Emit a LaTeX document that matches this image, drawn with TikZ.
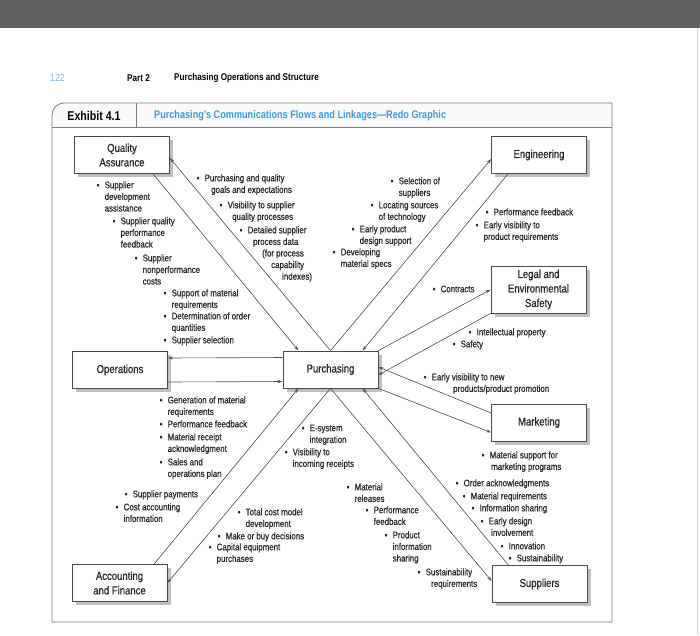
\documentclass[tikz,border=0pt]{standalone}
\usepackage{fontspec}
\setmainfont{Liberation Sans}[FakeStretch=0.83]
\newfontfamily\lblfont{Liberation Sans}[FakeStretch=0.83, FakeBold=0.6]
\usetikzlibrary{arrows.meta,calc,shadows}

\definecolor{bandgray}{HTML}{626262}
\definecolor{framegray}{HTML}{7A7A7A}
\definecolor{flowgray}{HTML}{4A4A4A}
\definecolor{titleblue}{HTML}{3E9BD6}
\definecolor{pageblue}{HTML}{86B6DC}

% bullet with a fixed width, and indents for the following lines
\newcommand{\bl}{\rule{0pt}{6.8pt}\makebox[8pt][l]{\textbullet}}
\newcommand{\ind}[1]{\hspace*{#1pt}}

\tikzset{
  box/.style={draw=flowgray, line width=0.7pt, fill=white, minimum width=95pt,
    minimum height=37pt, inner sep=2pt, align=center,
    font=\lblfont\fontsize{11.5}{14.5}\selectfont, text=black!85,
    drop shadow={shadow xshift=3.5pt, shadow yshift=-3.5pt, fill=gray!50, opacity=1}},
  lbl/.style={anchor=north west, inner sep=0pt, align=left, xshift=-1.5pt,
    yshift=3.8pt, font=\lblfont\fontsize{9.5}{11.6}\selectfont, text=black!85},
  flow/.style={draw=flowgray, line width=0.6pt, -{Stealth[length=5pt,width=3pt]}},
  frame/.style={draw=framegray, line width=0.8pt},
}

\begin{document}
\begin{tikzpicture}[x=1pt,y=-1pt]
\useasboundingbox (0,0) rectangle (700,635);

% page
\fill[bandgray] (0,0) rectangle (700,28);
\draw[gray!35] (697,28) -- (697,635);
\node[anchor=west, inner sep=0pt, text=pageblue, font=\fontsize{10.5}{12}\selectfont] (page) at (50,78) {122};
\node[anchor=west, inner sep=0pt, font=\bfseries\fontsize{9.8}{11}\selectfont] (part) at (127,78) {Part 2};
\node[anchor=west, inner sep=0pt, font=\bfseries\fontsize{9.8}{11}\selectfont] (chap) at (174,78) {Purchasing Operations and Structure};

% exhibit frame
\fill[gray!4] (52,127) -- (52,115) arc[start angle=180, end angle=270, radius=12] -- (612,103) -- (612,127) -- cycle;
\draw[frame] (52,622) -- (52,115) arc[start angle=180, end angle=270, radius=12] -- (612,103) -- (612,622) -- cycle;
\draw[frame] (52,127) -- (612,127);
\draw[frame] (136,103) -- (136,127);
\node[font=\bfseries\fontsize{12.8}{14}\selectfont] (exh) at (94,116) {Exhibit 4.1};
\node[anchor=west, inner sep=0pt, text=titleblue, font=\bfseries\fontsize{11}{14}\selectfont] (title) at (154,116) {Purchasing's Communications Flows and Linkages---Redo Graphic};

% boxes
\node[box] (qa) at (122,155) {Quality\\Assurance};
\node[box] (ops) at (120,370) {Operations};
\node[box] (acc) at (119.5,583) {Accounting\\and Finance};
\node[box] (purch) at (330.5,369.5) {Purchasing};
\node[box] (eng) at (539,155) {Engineering};
\node[box, minimum height=47pt] (legal) at (538.5,289.5) {Legal and\\Environmental\\Safety};
\node[box] (mkt) at (539,422.5) {Marketing};
\node[box] (sup) at (539.5,584) {Suppliers};

% flows
\draw[flow] ($(qa.south)+(31,0)$) -- ($(purch.north)+(-32,0)$);
\draw[flow] (purch.north) -- ($(qa.east)+(0,3)$);
\draw[flow] (purch.north) -- ($(eng.west)+(0,4)$);
\draw[flow] ($(eng.south)+(-31,0)$) -- ($(purch.north)+(32,0)$);
\draw[flow] (purch.north east) -- (legal.west);
\draw[flow] (legal.south west) -- ($(purch.east)+(0,5.5)$);
\draw[flow] ($(mkt.west)+(0,-9.5)$) -- ($(purch.east)+(0,-2.5)$);
\draw[flow] (purch.south east) -- ($(mkt.west)+(0,10)$);
\draw[flow] (purch.south) -- ($(sup.west)+(0,-3)$);
\draw[flow] ($(sup.north)+(-31,0)$) -- ($(purch.south)+(32,0)$);
\draw[flow] ($(acc.north)+(34.5,0)$) -- ($(purch.south)+(-32,0)$);
\draw[flow] (purch.south) -- (acc.east);
\draw[flow] ($(purch.west)+(0,-12)$) -- ($(ops.east)+(0,-12)$);
\draw[flow] ($(ops.east)+(0,12)$) -- ($(purch.west)+(0,12)$);

% quality assurance
\node[lbl] (qa1) at (98,185) {\bl Supplier\\\ind{8}development\\\ind{8}assistance};
\node[lbl] (qa2) at (114,221) {\bl Supplier quality\\\ind{8}performance\\\ind{8}feedback};
\node[lbl] (qa3) at (136,258) {\bl Supplier\\\ind{8}nonperformance\\\ind{8}costs};
\node[lbl] (pq1) at (198,178) {\bl Purchasing and quality\\\ind{14.5}goals and expectations};
\node[lbl] (pq2) at (221,205) {\bl Visibility to supplier\\\ind{12.5}quality processes};
\node[lbl] (pq3) at (241,230) {\bl Detailed supplier\\\ind{13.5}process data\\\ind{22.5}(for process\\\ind{31.5}capability\\\ind{42.5}indexes)};

% operations
\node[lbl] (op1) at (165,293) {\bl Support of material\\\ind{8}requirements};
\node[lbl] (op2) at (165,316) {\bl Determination of order\\\ind{8}quantities};
\node[lbl] (op3) at (165,340) {\bl Supplier selection};
\node[lbl] (op4) at (161,400) {\bl Generation of material\\\ind{8}requirements};
\node[lbl] (op5) at (161,424) {\bl Performance feedback};
\node[lbl] (op6) at (161,437) {\bl Material receipt\\\ind{8}acknowledgment};
\node[lbl] (op7) at (161,462) {\bl Sales and\\\ind{8}operations plan};

% engineering
\node[lbl] (eg1) at (392,181) {\bl Selection of\\\ind{8}suppliers};
\node[lbl] (eg2) at (372,205) {\bl Locating sources\\\ind{8}of technology};
\node[lbl] (eg3) at (353,229) {\bl Early product\\\ind{8}design support};
\node[lbl] (eg4) at (334,252) {\bl Developing\\\ind{8}material specs};
\node[lbl] (eg5) at (487,212) {\bl Performance feedback};
\node[lbl] (eg6) at (477,225) {\bl Early visibility to\\\ind{8}product requirements};

% legal and marketing
\node[lbl] (lg1) at (434,289) {\bl Contracts};
\node[lbl] (lg2) at (470,332) {\bl Intellectual property};
\node[lbl] (lg3) at (454,344) {\bl Safety};
\node[lbl] (mk1) at (425,377) {\bl Early visibility to new\\\ind{29.5}products/product promotion};
\node[lbl] (mk2) at (483,455) {\bl Material support for\\\ind{9.5}marketing programs};

% suppliers
\node[lbl] (sp1) at (457,483) {\bl Order acknowledgments};
\node[lbl] (sp2) at (464,496) {\bl Material requirements};
\node[lbl] (sp3) at (473,508) {\bl Information sharing};
\node[lbl] (sp4) at (482,521) {\bl Early design\\\ind{10.5}involvement};
\node[lbl] (sp5) at (502,546) {\bl Innovation};
\node[lbl] (sp6) at (510,558) {\bl Sustainability};
\node[lbl] (sp7) at (348,487) {\bl Material\\\ind{8}releases};
\node[lbl] (sp8) at (367,510) {\bl Performance\\\ind{8}feedback};
\node[lbl] (sp9) at (386,535) {\bl Product\\\ind{8}information\\\ind{8}sharing};
\node[lbl] (sp10) at (419,572) {\bl Sustainability\\\ind{13.5}requirements};

% accounting and finance
\node[lbl] (ac1) at (303,428) {\bl E-system\\\ind{8}integration};
\node[lbl] (ac2) at (286,452) {\bl Visibility to\\\ind{8}incoming receipts};
\node[lbl] (fi1) at (126,494) {\bl Supplier payments};
\node[lbl] (fi2) at (117,507) {\bl Cost accounting\\\ind{8}information};
\node[lbl] (fi3) at (239,512) {\bl Total cost model\\\ind{8}development};
\node[lbl] (fi4) at (219,536) {\bl Make or buy decisions};
\node[lbl] (fi5) at (210,547) {\bl Capital equipment\\\ind{8}purchases};

\end{tikzpicture}
\end{document}
